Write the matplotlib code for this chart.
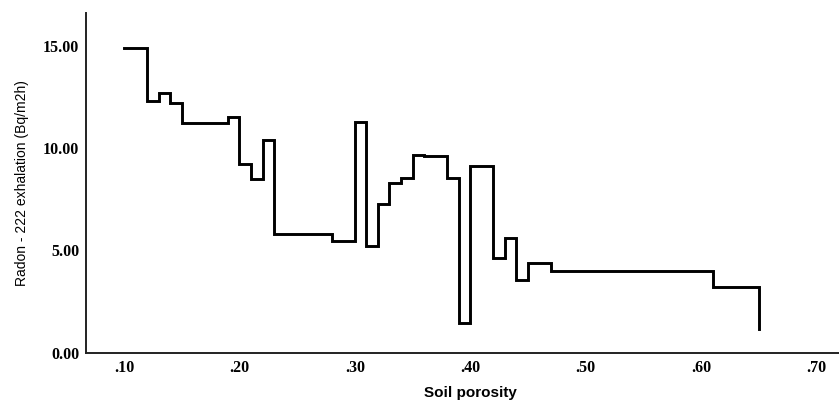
import matplotlib
matplotlib.use("Agg")
import matplotlib.pyplot as plt

# step points (soil porosity vs radon exhalation)
porosity = [0.10, 0.12, 0.13, 0.14, 0.15, 0.19, 0.20, 0.21, 0.22, 0.23,
            0.28, 0.30, 0.31, 0.32, 0.33, 0.34, 0.35, 0.36, 0.38, 0.39,
            0.40, 0.42, 0.43, 0.44, 0.45, 0.47, 0.61, 0.65]
radon = [14.9, 12.3, 12.7, 12.2, 11.2, 11.5, 9.2, 8.5, 10.4, 5.8,
         5.45, 11.25, 5.2, 7.25, 8.3, 8.55, 9.65, 9.6, 8.55, 1.45,
         9.1, 4.65, 5.6, 3.55, 4.4, 4.0, 3.2, 1.15]

xticks = [0.10, 0.20, 0.30, 0.40, 0.50, 0.60, 0.70]
xticklabels = ['.10', '.20', '.30', '.40', '.50', '.60', '.70']
yticks = [0, 5, 10, 15]
yticklabels = ['0.00', '5.00', '10.00', '15.00']

fig = plt.figure(figsize=(8.39, 4.01), dpi=100)
ax = fig.add_axes([0.1025, 0.12, 0.8975, 0.848])

ax.plot(porosity, radon, drawstyle='steps-post', color='black', linewidth=2.1,
        solid_joinstyle='miter')

ax.set_xlim(0.067, 0.7196)
ax.set_ylim(0, 16.6)

ax.spines['top'].set_visible(False)
ax.spines['right'].set_visible(False)
for s in ('left', 'bottom'):
    ax.spines[s].set_linewidth(1.4)
    ax.spines[s].set_color('#222222')

ax.set_xticks(xticks)
ax.set_xticklabels(xticklabels, family='Liberation Serif', fontsize=11.5, fontweight='bold')
ax.set_yticks(yticks)
ax.set_yticklabels(yticklabels, family='Liberation Serif', fontsize=11.5, fontweight='bold')
ax.tick_params(axis='both', length=0)
ax.tick_params(axis='x', pad=5)
ax.tick_params(axis='y', pad=5)

ax.set_xlabel('Soil porosity', family='Liberation Sans', fontsize=11, fontweight='bold')
ax.xaxis.set_label_coords(0.51, -0.097)
ax.set_ylabel('Radon - 222 exhalation (Bq/m2h)', family='Liberation Sans', fontsize=10, labelpad=10)

fig.savefig('out.png', dpi=100)
